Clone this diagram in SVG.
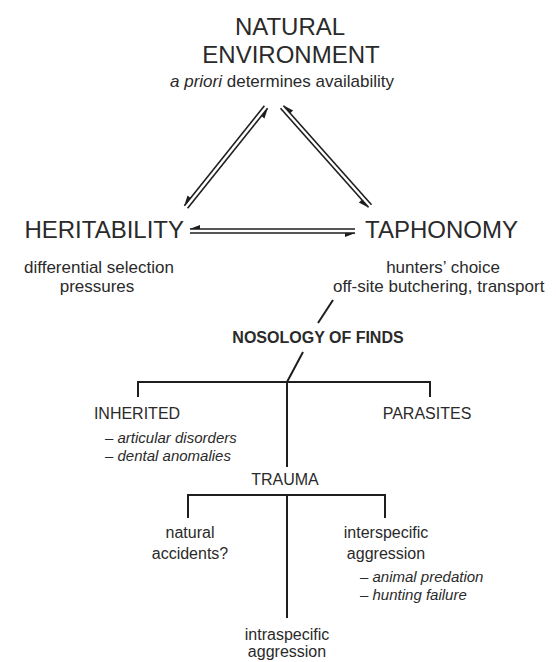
<svg xmlns="http://www.w3.org/2000/svg" width="556" height="662" viewBox="0 0 556 662">
<style>
text{font-family:"Liberation Sans",Arial,sans-serif;fill:#2a2a2a}
.h{font-size:24px}
.s{font-size:17px}
.l{font-size:16px}
.i{font-size:15px;font-style:italic}
.b{font-size:16px;font-weight:bold}
.c{text-anchor:middle}
.ln{stroke:#1e1e1e;stroke-width:2;fill:none}
.ar{stroke:#1e1e1e;stroke-width:1.6;fill:none;marker-end:url(#harp)}
</style>
<defs>
<marker id="harp" markerUnits="userSpaceOnUse" orient="auto" viewBox="-12 -6 14 12" refX="0" refY="0" markerWidth="14" markerHeight="12">
<path d="M0.5,0 L-10,0 L-10,4 Z" fill="#1e1e1e"/>
</marker>
</defs>
<g id="natural-environment">
<text class="h c" x="290" y="35">NATURAL</text>
<text class="h c" x="291" y="63">ENVIRONMENT</text>
<text class="s c" x="282" y="87" font-size="18"><tspan font-style="italic">a priori</tspan> determines availability</text>
</g>
<g id="heritability">
<text class="h" x="184" y="238" text-anchor="end">HERITABILITY</text>
<text class="s c" x="99" y="273">differential selection</text>
<text class="s c" x="97" y="292">pressures</text>
</g>
<g id="taphonomy">
<text class="h" x="365" y="238">TAPHONOMY</text>
<text class="s c" x="443" y="273">hunters’ choice</text>
<text class="s" x="333" y="292">off-site butchering, transport</text>
</g>
<g id="nosology">
<text class="b c" x="318" y="343">NOSOLOGY OF FINDS</text>
</g>
<g id="inherited">
<text class="l c" x="137" y="419">INHERITED</text>
<text class="i" x="105" y="443"><tspan font-style="normal">–</tspan> articular disorders</text>
<text class="i" x="105" y="461"><tspan font-style="normal">–</tspan> dental anomalies</text>
</g>
<g id="parasites">
<text class="l c" x="427" y="419">PARASITES</text>
</g>
<g id="trauma">
<text class="l c" x="285" y="485">TRAUMA</text>
</g>
<g id="natural-accidents">
<text class="l c" x="190" y="538">natural</text>
<text class="l c" x="190" y="559">accidents?</text>
</g>
<g id="interspecific">
<text class="l c" x="386" y="538">interspecific</text>
<text class="l c" x="386" y="559">aggression</text>
<text class="i" x="360" y="582"><tspan font-style="normal">–</tspan> animal predation</text>
<text class="i" x="360" y="600"><tspan font-style="normal">–</tspan> hunting failure</text>
</g>
<g id="intraspecific">
<text class="l c" x="287" y="640">intraspecific</text>
<text class="l c" x="287" y="657">aggression</text>
</g>
<g id="connectors">
<line class="ar" x1="264.4" y1="105.8" x2="184.4" y2="205.8"/>
<line class="ar" x1="187.6" y1="208.2" x2="267.6" y2="108.2"/>
<line class="ar" x1="371.5" y1="204.7" x2="283.5" y2="105.7"/>
<line class="ar" x1="280.5" y1="108.3" x2="368.5" y2="207.3"/>
<line class="ar" x1="355" y1="229" x2="190" y2="229"/>
<line class="ar" x1="190" y1="233" x2="355" y2="233"/>
<line class="ln" x1="333" y1="300" x2="318" y2="323"/>
<line class="ln" x1="303" y1="352" x2="287" y2="382"/>
<path class="ln" d="M138,397 V382 H430 V397"/>
<line class="ln" x1="287" y1="382" x2="287" y2="467"/>
<path class="ln" d="M188,518 V495 H385 V518"/>
<line class="ln" x1="287" y1="495" x2="287" y2="618"/>
</g>
</svg>
